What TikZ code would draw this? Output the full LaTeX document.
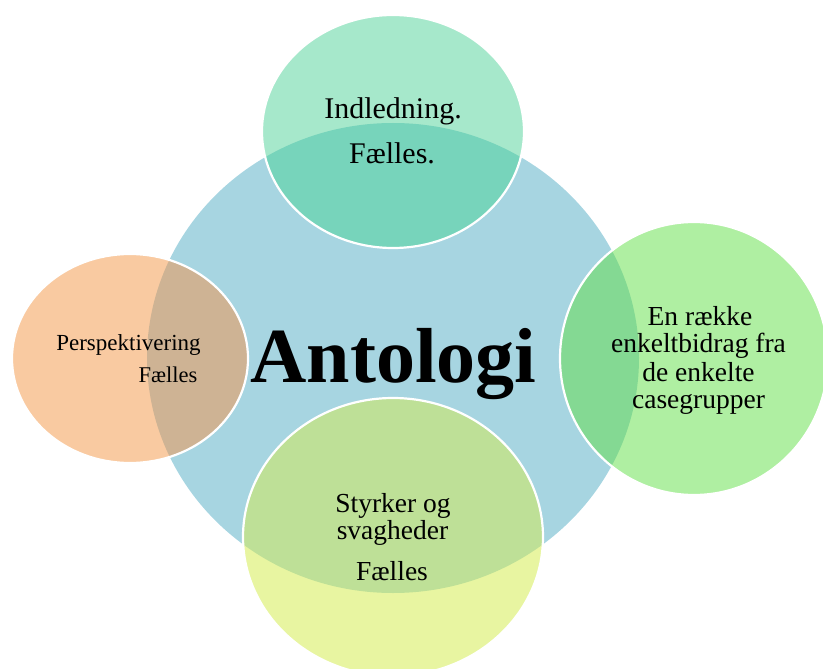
\documentclass[tikz,border=0pt]{standalone}
\usepackage{fontspec}
\setmainfont{Liberation Serif}
\definecolor{cblue}{HTML}{A7D5E1}
\definecolor{ctop}{HTML}{A6E8CB}
\definecolor{ctopov}{HTML}{77D4BB}
\definecolor{cleft}{HTML}{F9CAA1}
\definecolor{cleftov}{HTML}{CEB394}
\definecolor{cright}{HTML}{AFEFA2}
\definecolor{crightov}{HTML}{84D993}
\definecolor{cbot}{HTML}{E8F5A1}
\definecolor{cbotov}{HTML}{BEE097}
\tikzset{
  rim/.style={draw=white, line width=2.2pt},
  lbl/.style={anchor=base, inner sep=0pt, text=black},
}
\newcommand{\fsz}[1]{\fontsize{#1}{#1}\selectfont}
\newcommand{\hubshape}{(393,358) ellipse [x radius=246, y radius=235]}
\begin{document}
\begin{tikzpicture}[x=1pt,y=-1pt]
\useasboundingbox (0,0) rectangle (823,669);
\clip (0,0) rectangle (823,669);
% central shape
\fill[cblue] \hubshape;
% top ellipse
\fill[ctop] (393,131.5) ellipse [x radius=131, y radius=116.5];
\begin{scope}
  \clip (393,131.5) ellipse [x radius=131, y radius=116.5];
  \fill[ctopov] \hubshape;
\end{scope}
\draw[rim] (393,131.5) ellipse [x radius=131, y radius=116.5];
% left ellipse
\fill[cleft] (130,358.5) ellipse [x radius=118, y radius=104.5];
\begin{scope}
  \clip (130,358.5) ellipse [x radius=118, y radius=104.5];
  \fill[cleftov] \hubshape;
\end{scope}
\draw[rim] (130,358.5) ellipse [x radius=118, y radius=104.5];
% right ellipse
\fill[cright] (694,358.5) ellipse [x radius=134, y radius=136.5];
\begin{scope}
  \clip (694,358.5) ellipse [x radius=134, y radius=136.5];
  \fill[crightov] \hubshape;
\end{scope}
\draw[rim] (694,358.5) ellipse [x radius=134, y radius=136.5];
% bottom ellipse
\fill[cbot] (393,537) ellipse [x radius=150, y radius=139];
\begin{scope}
  \clip (393,537) ellipse [x radius=150, y radius=139];
  \fill[cbotov] \hubshape;
\end{scope}
\draw[rim] (393,537) ellipse [x radius=150, y radius=139];
% texts
\node[lbl, font=\bfseries\fsz{78}] (ant) at (393.5,382) {Antologi};
\node[lbl, font=\fsz{30}] (t1) at (393,119) {Indledning.};
\node[lbl, font=\fsz{30}] (t2) at (392,163) {Fælles.};
\node[lbl, font=\fsz{23}] (l1) at (128.5,350) {Perspektivering};
\node[lbl, font=\fsz{22.5}] (l2) at (168,382) {Fælles};
\node[lbl, font=\fsz{27.5}] (r1) at (700,325) {En række};
\node[lbl, font=\fsz{27.5}] (r2) at (698.5,352) {enkeltbidrag fra};
\node[lbl, font=\fsz{27.5}] (r3) at (698.5,381) {de enkelte};
\node[lbl, font=\fsz{27.5}] (r4) at (698.5,408) {casegrupper};
\node[lbl, font=\fsz{27.5}] (b1) at (393,512) {Styrker og};
\node[lbl, font=\fsz{27.5}] (b2) at (392.5,539) {svagheder};
\node[lbl, font=\fsz{27.5}] (b3) at (392,580) {Fælles};
\end{tikzpicture}
\end{document}
